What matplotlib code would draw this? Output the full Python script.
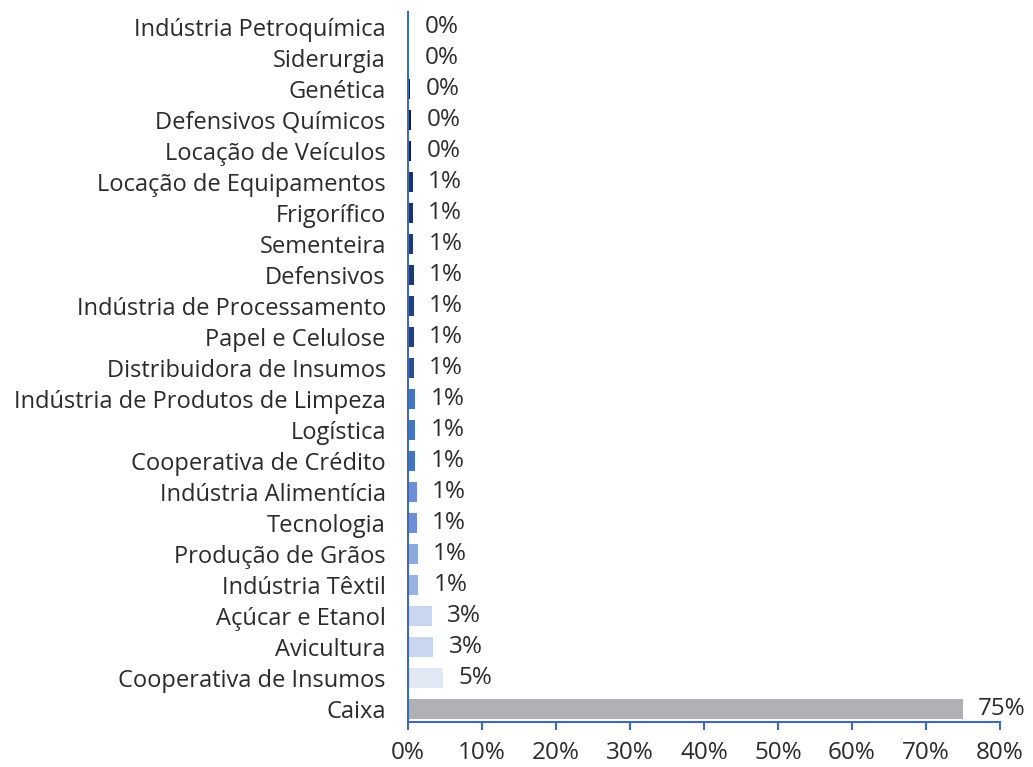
import matplotlib.pyplot as plt

# categorias (de cima para baixo)
setores = ["Indústria Petroquímica", "Siderurgia", "Genética", "Defensivos Químicos",
           "Locação de Veículos", "Locação de Equipamentos", "Frigorífico", "Sementeira",
           "Defensivos", "Indústria de Processamento", "Papel e Celulose",
           "Distribuidora de Insumos", "Indústria de Produtos de Limpeza", "Logística",
           "Cooperativa de Crédito", "Indústria Alimentícia", "Tecnologia",
           "Produção de Grãos", "Indústria Têxtil", "Açúcar e Etanol", "Avicultura",
           "Cooperativa de Insumos", "Caixa"]

# participação (%)
valores = [0.15, 0.15, 0.3, 0.4, 0.45, 0.65, 0.65, 0.7, 0.75, 0.8, 0.8, 0.8,
           0.95, 0.95, 0.95, 1.2, 1.2, 1.3, 1.4, 3.2, 3.4, 4.7, 75.0]

cores = ["#0b1a36", "#0b1a36", "#0d1e3e", "#0d1e3e", "#0f2246",
         "#1b3563", "#1b3563", "#1f3b6e", "#1f3b6e", "#23417a", "#23417a", "#2a4d8f",
         "#4472c4", "#4472c4", "#4472c4", "#6e8fd6", "#6e8fd6", "#8eaadc", "#9bb3e0",
         "#c8d7ef", "#c8d7ef", "#e2e9f5", "#b1b1b5"]

xticks = [0, 10, 20, 30, 40, 50, 60, 70, 80]

plt.rcParams['font.family'] = ['Open Sans', 'DejaVu Sans']
azul = "#3f69b0"
texto = "#2b2b2b"
fs = 17

fig = plt.figure(figsize=(10.33, 7.67), dpi=100)
ax = fig.add_axes([0.395, 0.0587, 0.573, 0.9253])

pos = list(range(len(setores)))
ax.barh(pos, valores, height=0.65, color=cores)

for y, v in zip(pos, valores):
    ax.annotate(f"{int(v + 0.5)}%", (v, y), xytext=(11, 0), textcoords='offset points',
                va='center', ha='left', fontsize=fs + 0.5, color=texto)

ax.set_ylim(22.42, -0.48)
ax.set_xlim(0, 80)
ax.set_yticks(pos)
ax.set_yticklabels(setores, fontsize=fs, color=texto)
ax.tick_params(axis='y', length=0, pad=16)
ax.set_xticks(xticks)
ax.set_xticklabels([f"{t}%" for t in xticks], fontsize=fs + 0.5, color=texto)
ax.tick_params(axis='x', direction='out', length=6, width=1.5, color=azul, pad=8)

for s in ['top', 'right']:
    ax.spines[s].set_visible(False)
for s in ['left', 'bottom']:
    ax.spines[s].set_color(azul)
    ax.spines[s].set_linewidth(1.5)

fig.savefig("out.png", dpi=100)
